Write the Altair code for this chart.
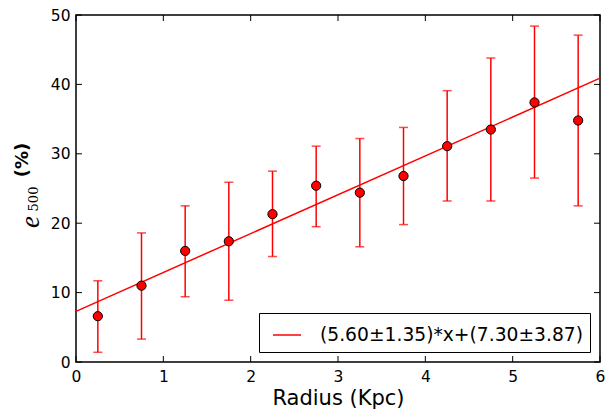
import altair as alt
import pandas as pd

radius = [0.25, 0.75, 1.25, 1.75, 2.25, 2.75, 3.25, 3.75, 4.25, 4.75, 5.25, 5.75]
e500 = [6.6, 11.0, 16.0, 17.4, 21.3, 25.4, 24.4, 26.8, 31.1, 33.5, 37.4, 34.8]
err_low = [1.4, 3.3, 9.4, 8.9, 15.2, 19.5, 16.6, 19.8, 23.2, 23.2, 26.5, 22.5]
err_high = [11.7, 18.6, 22.5, 25.9, 27.5, 31.1, 32.2, 33.8, 39.1, 43.8, 48.4, 47.1]
fit_x = [0, 6]
fit_y = [7.30, 40.90]
fit_label = "(5.60\u00b11.35)*x+(7.30\u00b13.87)"
x_ticks = [0, 1, 2, 3, 4, 5, 6]
y_ticks = [0, 10, 20, 30, 40, 50]

pts = pd.DataFrame({"x": radius, "y": e500, "lo": err_low, "hi": err_high})
fit = pd.DataFrame({"x": fit_x, "y": fit_y, "label": [fit_label] * 2})
xt = pd.DataFrame({"x": x_ticks})
yt = pd.DataFrame({"y": y_ticks})

W, H = 524, 347
TOP = 7
xs = alt.Scale(domain=[0, 6], nice=False, zero=False)
ys = alt.Scale(domain=[0, 50], nice=False, zero=False)
FONT = "DejaVu Sans"

x_axis = alt.Axis(values=x_ticks, tickSize=0, domain=False, grid=False,
                  labelFontSize=15.5, labelFont=FONT, labelColor="black",
                  labelPadding=7, title="Radius (Kpc)", titleFont=FONT,
                  titleFontSize=21, titleFontWeight="normal", titleColor="black",
                  titlePadding=3, labelFlush=False)
y_axis = alt.Axis(values=y_ticks, tickSize=0, domain=False, grid=False,
                  labelFontSize=15.5, labelFont=FONT, labelColor="black",
                  labelPadding=6, title="", labelFlush=False)

X = lambda f: alt.X(f, scale=xs, axis=x_axis)
Y = lambda f: alt.Y(f, scale=ys, axis=y_axis)

bars = alt.Chart(pts).mark_rule(color="#ff0000", strokeWidth=1.5).encode(
    x=X("x:Q"), y=Y("lo:Q"), y2="hi:Q")
caps_lo = alt.Chart(pts).mark_tick(color="#ff0000", orient="horizontal", size=9, thickness=1.5).encode(
    x=X("x:Q"), y=Y("lo:Q"))
caps_hi = alt.Chart(pts).mark_tick(color="#ff0000", orient="horizontal", size=9, thickness=1.5).encode(
    x=X("x:Q"), y=Y("hi:Q"))
line = alt.Chart(fit).mark_line(strokeWidth=1.5).encode(
    x=X("x:Q"), y=Y("y:Q"),
    color=alt.Color("label:N", scale=alt.Scale(range=["#ff0000"]),
                    legend=alt.Legend(title=None, orient="bottom-right", offset=10,
                                      symbolType="stroke", symbolSize=784,
                                      symbolStrokeWidth=1.5, labelFontSize=18.7,
                                      labelFont=FONT, labelColor="black",
                                      labelOffset=18, padding=7, symbolOffset=6,
                                      strokeColor="black", fillColor="white",
                                      cornerRadius=0, labelLimit=400)),
)
points = alt.Chart(pts).mark_circle(size=85, color="#ff0000", opacity=1,
                                    stroke="black", strokeWidth=1).encode(
    x=X("x:Q"), y=Y("y:Q"))

tb = alt.Chart(xt).mark_rule(color="black", strokeWidth=1).encode(
    x=X("x:Q"), y=alt.value(H), y2=alt.value(H - 6))
tt = alt.Chart(xt).mark_rule(color="black", strokeWidth=1).encode(
    x=X("x:Q"), y=alt.value(0), y2=alt.value(6))
tl = alt.Chart(yt).mark_rule(color="black", strokeWidth=1).encode(
    y=Y("y:Q"), x=alt.value(0), x2=alt.value(6))
tr = alt.Chart(yt).mark_rule(color="black", strokeWidth=1).encode(
    y=Y("y:Q"), x=alt.value(W), x2=alt.value(W - 6))

dy = 5 - TOP
t_e = alt.Chart(pd.DataFrame({"t": ["e"]})).mark_text(
    font="Liberation Serif", fontStyle="italic", fontSize=27, angle=270,
    align="center", baseline="middle", color="black").encode(
    text="t:N", x=alt.value(-45), y=alt.value(209 + dy))
t_s = alt.Chart(pd.DataFrame({"t": ["500"]})).mark_text(
    font="DejaVu Serif", fontSize=13, angle=270,
    align="center", baseline="middle", color="black").encode(
    text="t:N", x=alt.value(-42), y=alt.value(186 + dy))
t_p = alt.Chart(pd.DataFrame({"t": ["(%)"]})).mark_text(
    font=FONT, fontWeight="bold", fontSize=18, angle=270,
    align="center", baseline="middle", color="black").encode(
    text="t:N", x=alt.value(-53), y=alt.value(147 + dy))

chart = alt.layer(bars, caps_lo, caps_hi, line, points, tb, tt, tl, tr, t_e, t_s, t_p).properties(
    width=W, height=H,
    autosize=alt.AutoSizeParams(type="none"),
    padding={"left": 68, "top": TOP, "right": 6, "bottom": 52},
    background="white",
).configure_view(stroke="black", strokeWidth=1.5)

chart.save("out.html", embed_options={"renderer": "svg", "actions": False})
